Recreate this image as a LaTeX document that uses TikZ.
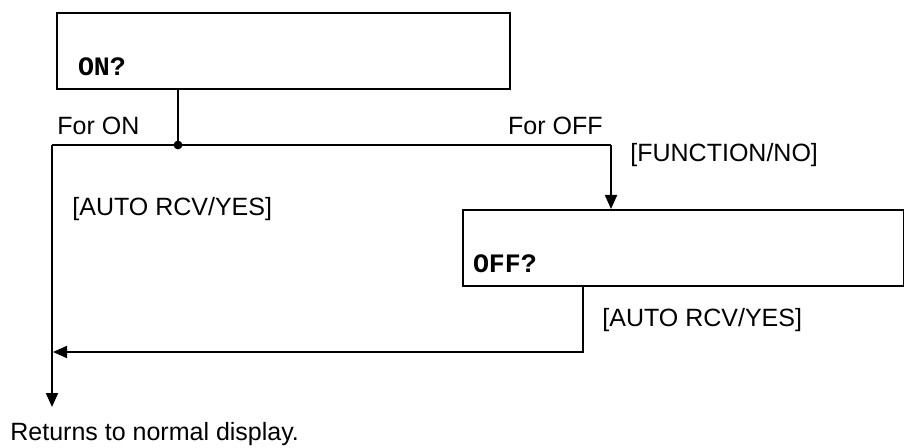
\documentclass[tikz,border=0pt]{standalone}
\usepackage{fontspec}
\usepackage{tikz}
\usetikzlibrary{arrows.meta, positioning}
\newfontfamily\flowsans{Liberation Sans}
\newfontfamily\flowmono{Liberation Mono}

\begin{document}
\begin{tikzpicture}[
  x=0.5pt, y=-0.5pt,
  dispbox/.style = {draw, line width=1pt, anchor=north west, minimum height=38pt,
                    text height=24.5pt, text depth=0pt, inner ysep=3pt, align=left,
                    font=\flowmono\bfseries\fontsize{13.3}{16}\selectfont},
  keylabel/.style = {inner sep=0pt, font=\flowsans\fontsize{12.5}{15}\selectfont},
  flow/.style  = {line width=1pt},
  arrow/.style = {flow, -{Triangle[length=7pt, width=6pt]}},
]
\useasboundingbox (0,0) rectangle (904,448);

% Displays
\node[dispbox, text width=205.5pt, inner xsep=10.5pt] (onbox)  at (56,12)  {ON?};
\node[dispbox, text width=210.5pt, inner xsep=5pt]    (offbox) at (462,209) {OFF?};

% Branch points
\coordinate (split)     at (178,145);
\coordinate (lefttop)   at (52,145);
\coordinate (righttop)  at (611,145);
\coordinate (retcorner) at (583,352);
\coordinate (retend)    at (53,352);
\coordinate (exit)      at (52,407);

% Labels
\node[keylabel, anchor=base west] (foron)   at (57,135)  {For ON};
\node[keylabel, anchor=base east] (foroff)  at (603,135) {For OFF};
\node[keylabel, anchor=base west] (keyno)   at (630,162) {[FUNCTION/NO]};
\node[keylabel, anchor=base west] (keyyes)  at (72,216)  {[AUTO RCV/YES]};
\node[keylabel, anchor=base west] (keyyes2) at (602,327) {[AUTO RCV/YES]};
\node[keylabel, anchor=base west] (returns) at (10,440)  {Returns to normal display.};

% Arrows
\draw[flow] (onbox.south -| split) -- (split);
\fill (split) circle (2.2pt);
\draw[flow] (lefttop) -- (righttop);
\draw[arrow] (righttop) -- (offbox.north -| righttop);
\draw[arrow] (offbox.south -| retcorner) -- (retcorner) -- (retend);
\draw[arrow] (lefttop) -- (exit);

\end{tikzpicture}
\end{document}
